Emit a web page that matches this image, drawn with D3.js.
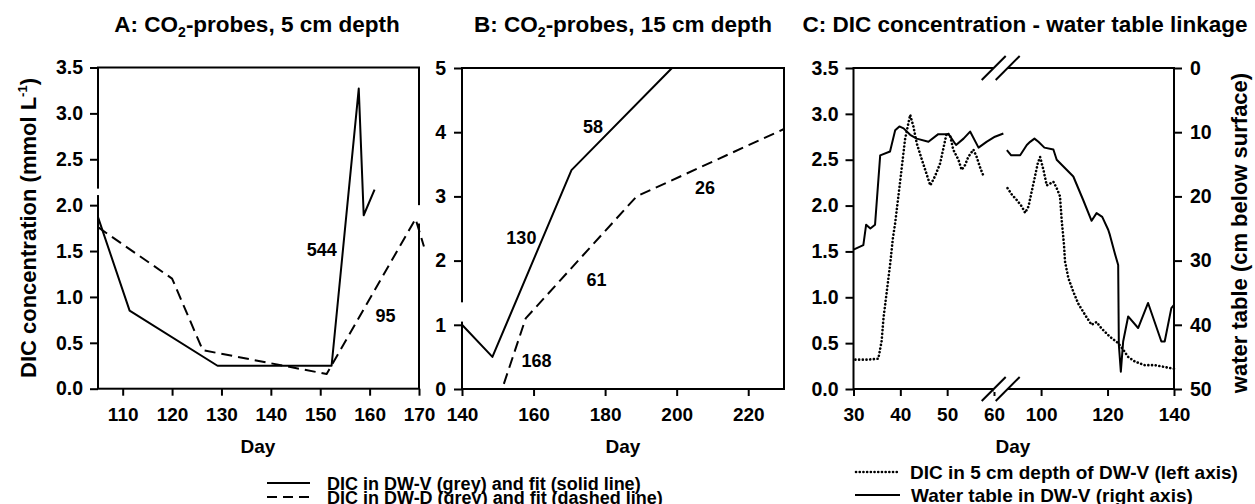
<!DOCTYPE html>
<html>
<head>
<meta charset="utf-8">
<script src="https://cdn.jsdelivr.net/npm/d3@7"></script>
<style>
  body { margin: 0; background: #fff; }
  svg text { font-family: "Liberation Sans", Arial, sans-serif; font-weight: bold; fill: #000; }
</style>
</head>
<body>
<script>
  /* DATA */
  // panel A: CO2-probes, 5 cm depth
  const aSolidDay = [105, 111.4, 129.2, 152.3, 157.8, 158.8, 161];
  const aSolidDic = [1.87, 0.85, 0.25, 0.25, 3.27, 1.89, 2.17];
  const aDashDay = [105, 120, 126.2, 151.3, 169.3, 171];
  const aDashDic = [1.76, 1.20, 0.42, 0.16, 1.85, 1.55];
  const aRateText = ["544", "95"];
  const aRateDay = [150.3, 163.2];
  const aRateDic = [1.51, 0.79];

  // panel B: CO2-probes, 15 cm depth
  const bSolidDay = [140, 148.5, 170.6, 198.7];
  const bSolidDic = [1.0, 0.5, 3.41, 5.0];
  const bDashDay = [151.7, 157.8, 188.8, 230];
  const bDashDic = [0.08, 1.10, 3.0, 4.05];
  const bRateText = ["58", "26", "130", "61", "168"];
  const bRateDay = [176.6, 207.9, 156.6, 177.6, 160.8];
  const bRateDic = [4.08, 3.13, 2.35, 1.70, 0.43];

  // panel C: water table (cm below surface), before and after the axis break
  const wtDay1 = [30, 32.1, 32.7, 33.6, 34.6, 35.7, 37.8, 38.9, 39.8, 40.7, 42.1, 43.5, 46.0, 48.1, 50.3, 51.9, 53.5, 54.9, 56.7, 58.4, 60.2, 62.0];
  const wtDepth1 = [28.3, 27.6, 24.4, 25.0, 24.4, 13.6, 13.0, 9.7, 9.1, 9.4, 10.4, 11.0, 11.5, 10.3, 10.3, 12.0, 11.0, 9.9, 12.4, 11.5, 10.7, 10.2];
  const wtDay2 = [89.7, 91.0, 93.7, 95.7, 96.7, 98.0, 99.2, 101.0, 103.7, 104.7, 109.7, 112.7, 115.2, 116.7, 118.4, 120.2, 120.7, 122.2, 123.2, 123.4, 124.0, 124.7, 126.2, 129.2, 132.2, 136.2, 137.2, 139.2, 140];
  const wtDepth2 = [12.8, 13.6, 13.6, 12.0, 11.5, 11.0, 11.5, 12.4, 12.7, 14.3, 16.9, 20.6, 23.8, 22.6, 23.2, 25.2, 26.0, 28.9, 30.7, 43.1, 47.3, 42.6, 38.7, 40.5, 36.6, 42.6, 42.6, 37.4, 36.9];

  // panel C: DIC in 5 cm depth of DW-V (null = gap in record)
  const dicDay1 = [30.4, 33.0, 35.3, 36.0, 36.4, 37.1, 37.8, 38.4, 38.9, 40.0, 41.0, 42.1, 42.8, 43.5, 44.6, 46.4, 47.4, 48.5, 49.9, 50.6, 51.3, 52.4, 53.1, 53.8, 54.5, 55.6, 56.3, 57.0, 57.7, 58.6, 59.5];
  const dicVal1 = [0.32, 0.32, 0.33, 0.52, 0.77, 1.06, 1.35, 1.64, 1.81, 2.28, 2.72, 2.99, 2.86, 2.68, 2.50, 2.22, 2.32, 2.46, 2.79, 2.77, 2.61, 2.50, 2.39, 2.44, 2.53, 2.61, 2.53, 2.42, 2.33, null, 2.39];
  const dicDay2 = [89.9, 91.2, 92.7, 94.2, 95.2, 96.2, 97.7, 99.0, 99.7, 100.7, 101.7, 102.7, 103.7, 104.7, 105.7, 106.2, 106.5, 106.9, 107.2, 108.2, 109.7, 111.2, 113.2, 115.2, 116.7, 118.2, 120.7, 123.2, 124.7, 126.2, 128.2, 131.2, 134.2, 137.2, 140];
  const dicVal2 = [2.19, 2.12, 2.06, 1.99, 1.92, 1.99, 2.24, 2.46, 2.53, 2.39, 2.22, 2.24, 2.26, 2.19, 2.10, 1.84, 1.73, 1.57, 1.39, 1.21, 1.06, 0.93, 0.81, 0.70, 0.73, 0.66, 0.57, 0.50, 0.43, 0.35, 0.30, 0.26, 0.26, 0.24, 0.22];

  // ticks
  const ticksA_x = [110, 120, 130, 140, 150, 160, 170];
  const ticksA_y = [0, 0.5, 1, 1.5, 2, 2.5, 3, 3.5];
  const ticksB_x = [140, 160, 180, 200, 220];
  const ticksB_y = [0, 1, 2, 3, 4, 5];
  const ticksC_x = [30, 40, 50, 60, 100, 120, 140];
  const ticksC_y = [0, 0.5, 1, 1.5, 2, 2.5, 3, 3.5];
  const ticksC_wt = [0, 10, 20, 30, 40, 50];

  /* SVG */
  var width = 1255, height = 504;
  var svg = d3.select("body").append("svg")
    .attr("width", width)
    .attr("height", height);

  // scales
  let xA = d3.scaleLinear().domain([105, 170]).range([98, 419]);
  let yA = d3.scaleLinear().domain([0, 3.5]).range([388.7, 67.5]);
  let xB = d3.scaleLinear().domain([140, 230]).range([462, 784]);
  let yB = d3.scaleLinear().domain([0, 5]).range([389, 68]);
  // broken x axis: two linear pieces glued at the break
  let xC = d3.scaleLinear().domain([30, 62.5, 89.5, 140]).range([853.5, 1005.7, 1006.2, 1174]);
  let yC = d3.scaleLinear().domain([0, 3.5]).range([389, 68]);
  let yW = d3.scaleLinear().domain([0, 50]).range([68, 389]);

  function frame(x, y) {
    svg.append("rect")
      .attr("x", x.range()[0])
      .attr("y", y.range()[1])
      .attr("width", x.range()[x.range().length - 1] - x.range()[0])
      .attr("height", y.range()[0] - y.range()[1])
      .attr("fill", "none")
      .attr("stroke", "#000")
      .attr("stroke-width", 2);
  }

  function styleAxis(g, size) {
    g.attr("font-size", size).attr("font-family", null);
    g.select(".domain").remove();
    g.selectAll(".tick line").attr("stroke-width", 2);
  }

  function addAxis(axis, tx, ty, size) {
    let g = svg.append("g")
      .attr("transform", `translate(${tx},${ty})`)
      .call(axis);
    styleAxis(g, size);
    return g;
  }

  function gap(xPos, y0, y1) {
    svg.append("rect")
      .attr("x", xPos - 2)
      .attr("y", Math.min(y0, y1))
      .attr("width", 4)
      .attr("height", Math.abs(y1 - y0))
      .attr("fill", "#fff");
  }

  function drawLine(days, vals, x, y, dash, w) {
    let pts = days.map((d, i) => [d, vals[i]]);
    svg.append("path")
      .datum(pts)
      .attr("fill", "none")
      .attr("stroke", "#000")
      .attr("stroke-width", w || 2)
      .attr("stroke-linejoin", "round")
      .attr("stroke-dasharray", dash || null)
      .attr("stroke-linecap", dash === "0.1,3.6" ? "round" : "butt")
      .attr("d", d3.line()
        .defined(d => d[1] !== null)
        .x(d => x(d[0]))
        .y(d => y(d[1])));
  }

  function rateLabels(texts, days, vals, x, y) {
    texts.forEach((t, i) => {
      svg.append("text")
        .attr("x", x(days[i]))
        .attr("y", y(vals[i]) + 6)
        .attr("text-anchor", "middle")
        .attr("font-size", 18)
        .text(t);
    });
  }

  function title(cx, parts) {
    let t = svg.append("text")
      .attr("x", cx)
      .attr("y", 31.5)
      .attr("text-anchor", "middle")
      .attr("font-size", 22.5);
    t.append("tspan").text(parts[0]);
    if (parts.length > 1) {
      t.append("tspan").attr("font-size", 14).attr("dy", 5).text("2");
      t.append("tspan").attr("dy", -5).text(parts[1]);
    }
  }

  /* PANEL A */
  frame(xA, yA);
  addAxis(d3.axisLeft(yA).tickValues(ticksA_y).tickFormat(d3.format(".1f")).tickSize(8).tickPadding(7), 98, 0, 19.5);
  addAxis(d3.axisBottom(xA).tickValues(ticksA_x).tickFormat(d3.format("d")).tickSize(7).tickPadding(12), 0, 388.7, 19);
  gap(98, yA(2.18), yA(2.11));
  gap(419, yA(2.0), yA(1.8));
  drawLine(aSolidDay, aSolidDic, xA, yA);
  drawLine(aDashDay, aDashDic, xA, yA, "11,6");
  rateLabels(aRateText, aRateDay, aRateDic, xA, yA);
  title(257, ["A: CO", "-probes, 5 cm depth"]);
  svg.append("text")
    .attr("x", 258).attr("y", 453)
    .attr("text-anchor", "middle").attr("font-size", 19)
    .text("Day");
  let yl = svg.append("text")
    .attr("transform", "translate(36,228) rotate(-90)")
    .attr("text-anchor", "middle")
    .attr("font-size", 22);
  yl.append("tspan").text("DIC concentration (mmol L");
  yl.append("tspan").attr("font-size", 13).attr("dy", -9).text("-1");
  yl.append("tspan").attr("dy", 9).text(")");

  /* PANEL B */
  frame(xB, yB);
  addAxis(d3.axisLeft(yB).tickValues(ticksB_y).tickFormat(d3.format("d")).tickSize(8).tickPadding(8), 462, 0, 19.5);
  addAxis(d3.axisBottom(xB).tickValues(ticksB_x).tickFormat(d3.format("d")).tickSize(7).tickPadding(12), 0, 389, 19);
  gap(462, yB(1.35), yB(1.05));
  drawLine(bSolidDay, bSolidDic, xB, yB);
  drawLine(bDashDay, bDashDic, xB, yB, "11,6");
  rateLabels(bRateText, bRateDay, bRateDic, xB, yB);
  title(623, ["B: CO", "-probes, 15 cm depth"]);
  svg.append("text")
    .attr("x", 623).attr("y", 453)
    .attr("text-anchor", "middle").attr("font-size", 19)
    .text("Day");

  /* PANEL C */
  frame(xC, yC);
  addAxis(d3.axisLeft(yC).tickValues(ticksC_y).tickFormat(d3.format(".1f")).tickSize(8).tickPadding(7), 853.5, 0, 19.5);
  addAxis(d3.axisRight(yW).tickValues(ticksC_wt).tickFormat(d3.format("d")).tickSize(8).tickPadding(8), 1174, 0, 19.5);
  addAxis(d3.axisBottom(xC).tickValues(ticksC_x).tickFormat(d3.format("d")).tickSize(7).tickPadding(12), 0, 389, 19);

  // axis break marks on top and bottom edge
  let bx = xC(62.5) - 5;
  [68, 389].forEach(yy => {
    svg.append("rect")
      .attr("x", bx - 7).attr("y", yy - 3)
      .attr("width", 14).attr("height", 6)
      .attr("fill", "#fff");
    [-7, 7].forEach(off => {
      svg.append("line")
        .attr("x1", bx + off - 12).attr("y1", yy + 12)
        .attr("x2", bx + off + 12).attr("y2", yy - 12)
        .attr("stroke", "#000").attr("stroke-width", 2);
    });
  });

  drawLine(wtDay1, wtDepth1, xC, yW);
  drawLine(wtDay2, wtDepth2, xC, yW);
  drawLine(dicDay1, dicVal1, xC, yC, "0.1,3.6", 2.6);
  drawLine(dicDay2, dicVal2, xC, yC, "0.1,3.6", 2.6);

  title(1025, ["C: DIC concentration - water table linkage"]);
  svg.append("text")
    .attr("x", 1013).attr("y", 453)
    .attr("text-anchor", "middle").attr("font-size", 19)
    .text("Day");
  svg.append("text")
    .attr("transform", "translate(1247,233) rotate(-90)")
    .attr("text-anchor", "middle")
    .attr("font-size", 22)
    .text("water table (cm below surface)");

  /* LEGENDS */
  function legendRow(x1, x2, y, dash, tx, label, size) {
    svg.append("line")
      .attr("x1", x1).attr("x2", x2)
      .attr("y1", y).attr("y2", y)
      .attr("stroke", "#000")
      .attr("stroke-width", dash === "0.1,3.6" ? 2.6 : 2)
      .attr("stroke-linecap", dash === "0.1,3.6" ? "round" : "butt")
      .attr("stroke-dasharray", dash || null);
    svg.append("text")
      .attr("x", tx).attr("y", y + 6.5)
      .attr("font-size", size)
      .text(label);
  }
  legendRow(267, 310, 483, null, 327, "DIC in DW-V (grey) and fit (solid line)", 18);
  legendRow(267, 310, 497, "10,6", 327, "DIC in DW-D (grey) and fit (dashed line)", 18);
  legendRow(856, 897, 472, "0.1,3.6", 910, "DIC in 5 cm depth of DW-V (left axis)", 19);
  legendRow(855, 900, 495, null, 911, "Water table in DW-V (right axis)", 19);
</script>
</body>
</html>
